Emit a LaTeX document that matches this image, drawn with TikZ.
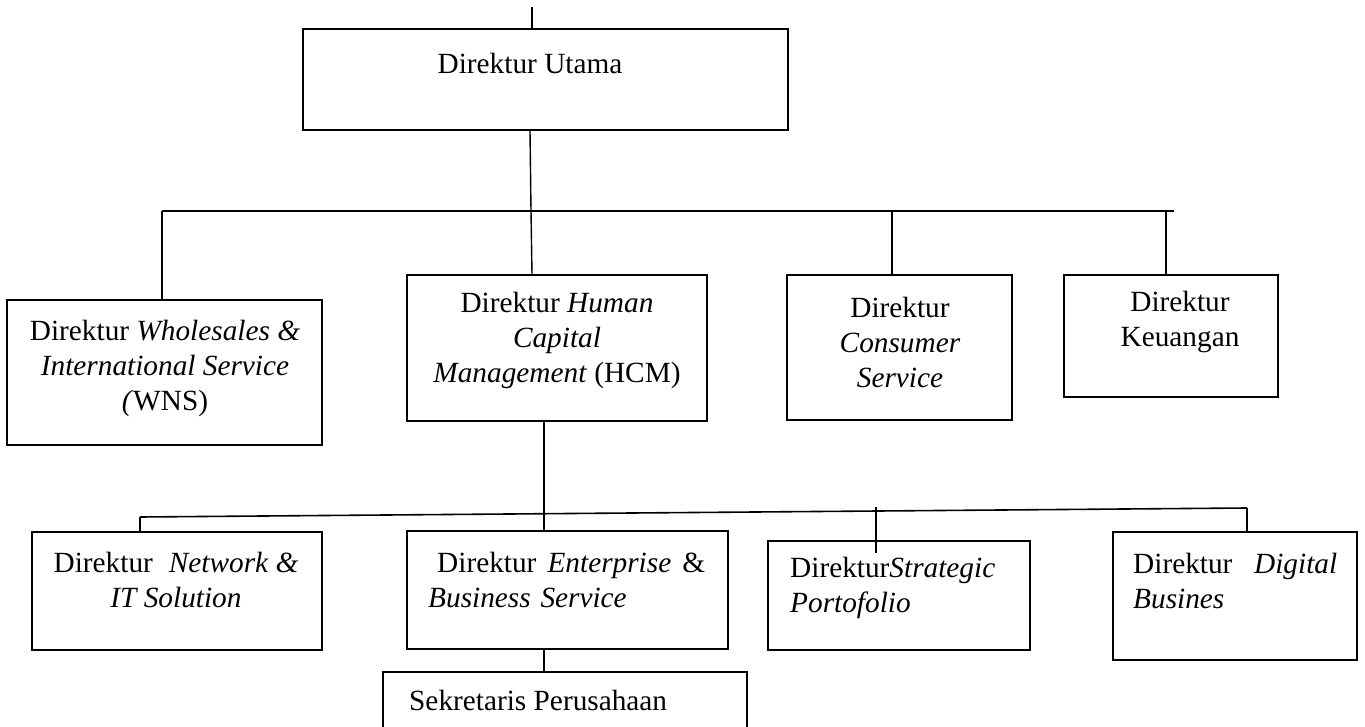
\documentclass[tikz,border=0pt]{standalone}
\usepackage{fontspec}
\setmainfont{Liberation Serif}
\begin{document}
\begin{tikzpicture}[x=1pt,y=-1pt,
  boxnode/.style={draw, line width=1.8pt, inner sep=0pt, rectangle},
  conn/.style={line width=1.4pt},
  txt/.style={inner sep=0pt, font=\fontsize{29.3}{35}\selectfont, align=center}]
\useasboundingbox (0,0) rectangle (1365,727);
\clip (0,0) rectangle (1365,727);
% boxes
\node[boxnode, minimum width=485pt, minimum height=101pt] (du)    at (545.5,79.5) {};
\node[boxnode, minimum width=315pt, minimum height=145pt] (wns)   at (164.5,372.5) {};
\node[boxnode, minimum width=300pt, minimum height=146pt] (hcm)   at (557,348) {};
\node[boxnode, minimum width=225pt, minimum height=145pt] (cons)  at (899.5,347.5) {};
\node[boxnode, minimum width=214pt, minimum height=122pt] (keu)   at (1171,336) {};
\node[boxnode, minimum width=290pt, minimum height=118pt] (net)   at (177,591) {};
\node[boxnode, minimum width=321pt, minimum height=118pt] (ent)   at (567.5,590) {};
\node[boxnode, minimum width=262pt, minimum height=109pt] (strat) at (899,595.5) {};
\node[boxnode, minimum width=244pt, minimum height=128pt] (dig)   at (1235,596) {};
\node[boxnode, minimum width=364pt, minimum height=68pt]  (sek)   at (565,706) {};
% texts
\node[txt] (tdu) at (530,63) {Direktur Utama};
\node[txt] (twns) at (165,368) {Direktur \textit{Wholesales \&}\\\textit{International Service}\\\textit{(}WNS)};
\node[txt] (thcm) at (557,340) {Direktur \textit{Human}\\\textit{Capital}\\\textit{Management} (HCM)};
\node[txt] (tcons) at (900,342) {Direktur\\\textit{Consumer}\\\textit{Service}};
\node[txt] (tkeu) at (1180,322) {Direktur\\Keuangan};
\node[txt] (tnet) at (176,580) {Direktur\hspace{16pt}\textit{Network \&}\\\textit{IT Solution}};
\node[txt, anchor=west, text width=277pt, align=left] (tent) at (428,580) {\hspace*{9pt}Direktur\hfill\textit{Enterprise}\hfill\&\\\textit{Business Service}};
\node[txt, anchor=west, align=left] (tstrat) at (790,588) {Direktur\textit{Strategic}\\\textit{Portofolio}};
\node[txt, anchor=west, text width=204pt, align=left] (tdig) at (1133,581) {Direktur\hfill\textit{Digital}\\\textit{Busines}};
\node[txt, anchor=west] (tsek) at (409,700) {Sekretaris Perusahaan};
% connector points
\coordinate (top) at (532,7);
\coordinate (j1) at (531,211);
\coordinate (b1L) at (162,211);
\coordinate (b1R) at (1174,211);
\coordinate (c1) at (892,211);
\coordinate (k1) at (1166,211);
\coordinate (b2L) at (140,517);
\coordinate (b2R) at (1247,508);
\coordinate (s1) at (876,507);
\coordinate (s2) at (876,553);
% upper level
\draw[conn] (top) -- (top |- du.north);
\draw[conn] (du.south -| 530,0) -- (j1) -- (hcm.north -| 532,0);
\draw[conn] (b1L) -- (b1R);
\draw[conn] (b1L) -- (b1L |- wns.north);
\draw[conn] (c1) -- (c1 |- cons.north);
\draw[conn] (k1) -- (k1 |- keu.north);
% lower level
\draw[conn] (hcm.south -| 544,0) -- (ent.north -| 544,0);
\draw[conn, line width=1.6pt] (b2L) -- (b2R);
\draw[conn] (b2L) -- (b2L |- net.north);
\draw[conn] (s1) -- (s2);
\draw[conn] (b2R) -- (b2R |- dig.north);
\draw[conn] (ent.south -| 544,0) -- (sek.north -| 544,0);
\end{tikzpicture}
\end{document}
